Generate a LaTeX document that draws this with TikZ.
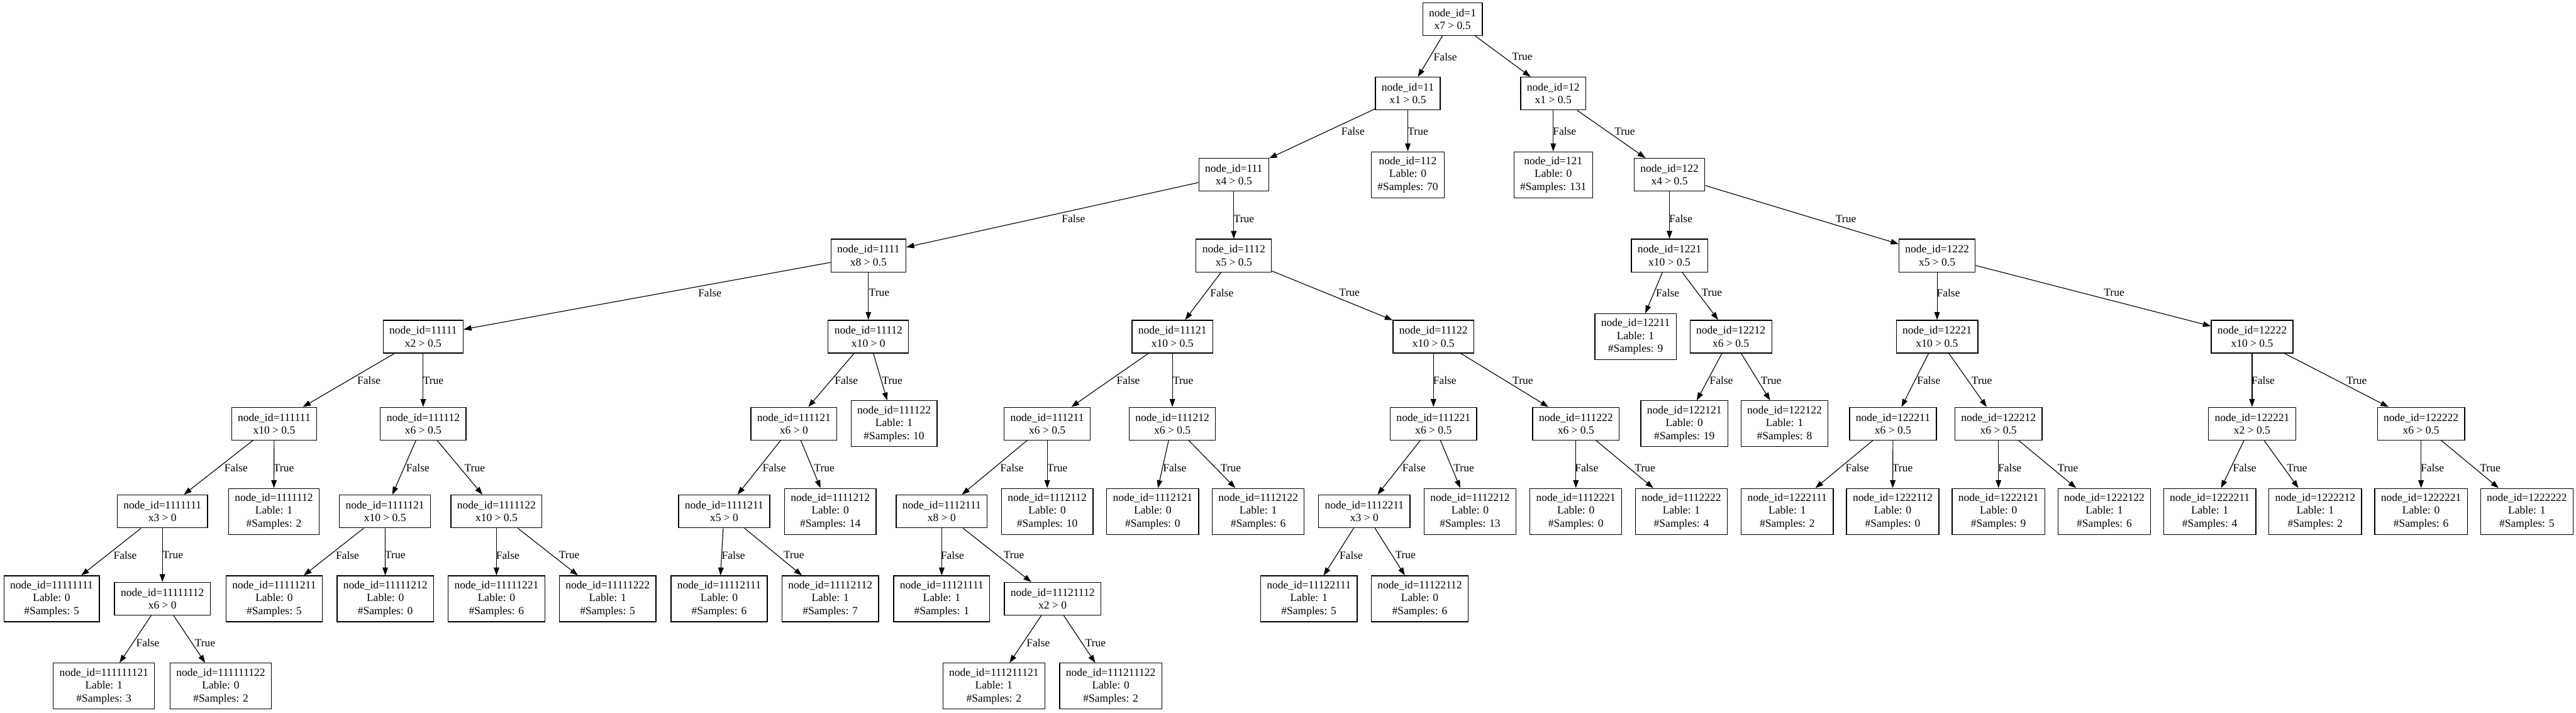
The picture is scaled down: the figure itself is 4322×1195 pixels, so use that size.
\documentclass[tikz,border=0pt]{standalone}
\usepackage{fontspec}
\newfontfamily\tfam{Liberation Serif}
\usetikzlibrary{arrows.meta}
\newcommand\tfnt{\tfam\fontsize{13.86pt}{16.2pt}\selectfont}
\newcommand\tedge[5]{\draw[edg] (n#1) -- (n#2); \node[el] (l#2) at (#4,#5) {#3};}
\tikzset{
  tn/.style={draw, line width=1pt, rectangle, align=center, inner xsep=7.84pt, inner ysep=0pt, minimum height=41.25pt, font=\tfnt},
  lf/.style={tn, minimum height=57.75pt},
  el/.style={font=\tfnt, inner sep=0pt},
  edg/.style={-{Triangle[length=9.9pt,width=6.9pt]}, line width=0.9pt},
}
\begin{document}
\begin{tikzpicture}[x=0.75pt,y=-0.75pt]
\useasboundingbox (0,0) rectangle (4322,1195);
% level 0
\node[tn] (n1) at (2437,32) {node\_id=1\\x7 > 0.5};
% level 1
\node[tn] (n11) at (2362,157) {node\_id=11\\x1 > 0.5};
\node[tn] (n12) at (2606,157) {node\_id=12\\x1 > 0.5};
% level 2
\node[tn] (n111) at (2070,293) {node\_id=111\\x4 > 0.5};
\node[lf] (n112) at (2362,293) {node\_id=112\\Lable: 0\\\#Samples: 70};
\node[lf] (n121) at (2606,293) {node\_id=121\\Lable: 0\\\#Samples: 131};
\node[tn] (n122) at (2801,293) {node\_id=122\\x4 > 0.5};
% level 3
\node[tn] (n1111) at (1457,428.5) {node\_id=1111\\x8 > 0.5};
\node[tn] (n1112) at (2070,428.5) {node\_id=1112\\x5 > 0.5};
\node[tn] (n1221) at (2801,428.5) {node\_id=1221\\x10 > 0.5};
\node[tn] (n1222) at (3250,428.5) {node\_id=1222\\x5 > 0.5};
% level 4
\node[tn] (n11111) at (710,564.5) {node\_id=11111\\x2 > 0.5};
\node[tn] (n11112) at (1457,564.5) {node\_id=11112\\x10 > 0};
\node[tn] (n11121) at (1967,564.5) {node\_id=11121\\x10 > 0.5};
\node[tn] (n11122) at (2405,564.5) {node\_id=11122\\x10 > 0.5};
\node[lf] (n12211) at (2744,564.5) {node\_id=12211\\Lable: 1\\\#Samples: 9};
\node[tn] (n12212) at (2904,564.5) {node\_id=12212\\x6 > 0.5};
\node[tn] (n12221) at (3250,564.5) {node\_id=12221\\x10 > 0.5};
\node[tn] (n12222) at (3778.5,564.5) {node\_id=12222\\x10 > 0.5};
% level 5
\node[tn] (n111111) at (460,710.5) {node\_id=111111\\x10 > 0.5};
\node[tn] (n111112) at (710,710.5) {node\_id=111112\\x6 > 0.5};
\node[tn] (n111121) at (1332,710.5) {node\_id=111121\\x6 > 0};
\node[lf] (n111122) at (1500,710.5) {node\_id=111122\\Lable: 1\\\#Samples: 10};
\node[tn] (n111211) at (1757,710.5) {node\_id=111211\\x6 > 0.5};
\node[tn] (n111212) at (1967,710.5) {node\_id=111212\\x6 > 0.5};
\node[tn] (n111221) at (2405,710.5) {node\_id=111221\\x6 > 0.5};
\node[tn] (n111222) at (2644,710.5) {node\_id=111222\\x6 > 0.5};
\node[lf] (n122121) at (2826,710.5) {node\_id=122121\\Lable: 0\\\#Samples: 19};
\node[lf] (n122122) at (2994,710.5) {node\_id=122122\\Lable: 1\\\#Samples: 8};
\node[tn] (n122211) at (3176,710.5) {node\_id=122211\\x6 > 0.5};
\node[tn] (n122212) at (3353,710.5) {node\_id=122212\\x6 > 0.5};
\node[tn] (n122221) at (3778.5,710.5) {node\_id=122221\\x2 > 0.5};
\node[tn] (n122222) at (4062,710.5) {node\_id=122222\\x6 > 0.5};
% level 6
\node[tn] (n1111111) at (272.5,857.5) {node\_id=1111111\\x3 > 0};
\node[lf] (n1111112) at (459.5,857.5) {node\_id=1111112\\Lable: 1\\\#Samples: 2};
\node[tn] (n1111121) at (646,857.5) {node\_id=1111121\\x10 > 0.5};
\node[tn] (n1111122) at (833,857.5) {node\_id=1111122\\x10 > 0.5};
\node[tn] (n1111211) at (1215,857.5) {node\_id=1111211\\x5 > 0};
\node[lf] (n1111212) at (1393,857.5) {node\_id=1111212\\Lable: 0\\\#Samples: 14};
\node[tn] (n1112111) at (1580,857.5) {node\_id=1112111\\x8 > 0};
\node[lf] (n1112112) at (1757,857.5) {node\_id=1112112\\Lable: 0\\\#Samples: 10};
\node[lf] (n1112121) at (1934,857.5) {node\_id=1112121\\Lable: 0\\\#Samples: 0};
\node[lf] (n1112122) at (2111,857.5) {node\_id=1112122\\Lable: 1\\\#Samples: 6};
\node[tn] (n1112211) at (2289,857.5) {node\_id=1112211\\x3 > 0};
\node[lf] (n1112212) at (2466.5,857.5) {node\_id=1112212\\Lable: 0\\\#Samples: 13};
\node[lf] (n1112221) at (2644,857.5) {node\_id=1112221\\Lable: 0\\\#Samples: 0};
\node[lf] (n1112222) at (2821,857.5) {node\_id=1112222\\Lable: 1\\\#Samples: 4};
\node[lf] (n1222111) at (2998.6,857.5) {node\_id=1222111\\Lable: 1\\\#Samples: 2};
\node[lf] (n1222112) at (3175.5,857.5) {node\_id=1222112\\Lable: 0\\\#Samples: 0};
\node[lf] (n1222121) at (3353,857.5) {node\_id=1222121\\Lable: 0\\\#Samples: 9};
\node[lf] (n1222122) at (3530.6,857.5) {node\_id=1222122\\Lable: 1\\\#Samples: 6};
\node[lf] (n1222211) at (3707.5,857.5) {node\_id=1222211\\Lable: 1\\\#Samples: 4};
\node[lf] (n1222212) at (3884.5,857.5) {node\_id=1222212\\Lable: 1\\\#Samples: 2};
\node[lf] (n1222221) at (4062,857.5) {node\_id=1222221\\Lable: 0\\\#Samples: 6};
\node[lf] (n1222222) at (4239.5,857.5) {node\_id=1222222\\Lable: 1\\\#Samples: 5};
% level 7
\node[lf] (n11111111) at (86.6,1004) {node\_id=11111111\\Lable: 0\\\#Samples: 5};
\node[tn] (n11111112) at (272.5,1004) {node\_id=11111112\\x6 > 0};
\node[lf] (n11111211) at (460,1004) {node\_id=11111211\\Lable: 0\\\#Samples: 5};
\node[lf] (n11111212) at (646.5,1004) {node\_id=11111212\\Lable: 0\\\#Samples: 0};
\node[lf] (n11111221) at (833,1004) {node\_id=11111221\\Lable: 0\\\#Samples: 6};
\node[lf] (n11111222) at (1019.5,1004) {node\_id=11111222\\Lable: 1\\\#Samples: 5};
\node[lf] (n11112111) at (1206.6,1004) {node\_id=11112111\\Lable: 0\\\#Samples: 6};
\node[lf] (n11112112) at (1393,1004) {node\_id=11112112\\Lable: 1\\\#Samples: 7};
\node[lf] (n11121111) at (1580,1004) {node\_id=11121111\\Lable: 1\\\#Samples: 1};
\node[tn] (n11121112) at (1766,1004) {node\_id=11121112\\x2 > 0};
\node[lf] (n11122111) at (2196,1004) {node\_id=11122111\\Lable: 1\\\#Samples: 5};
\node[lf] (n11122112) at (2382,1004) {node\_id=11122112\\Lable: 0\\\#Samples: 6};
% level 8
\node[lf] (n111111121) at (174.3,1150.5) {node\_id=111111121\\Lable: 1\\\#Samples: 3};
\node[lf] (n111111122) at (370.4,1150.5) {node\_id=111111122\\Lable: 0\\\#Samples: 2};
\node[lf] (n111211121) at (1667.5,1150.5) {node\_id=111211121\\Lable: 1\\\#Samples: 2};
\node[lf] (n111211122) at (1863.6,1150.5) {node\_id=111211122\\Lable: 0\\\#Samples: 2};
% edges
\tedge{1}{11}{False}{2425}{95}
\tedge{1}{12}{True}{2554}{95}
\tedge{11}{111}{False}{2270}{220}
\tedge{11}{112}{True}{2379}{220}
\tedge{12}{121}{False}{2625}{220}
\tedge{12}{122}{True}{2726}{220}
\tedge{111}{1111}{False}{1801}{367}
\tedge{111}{1112}{True}{2087}{367}
\tedge{122}{1221}{False}{2820}{367}
\tedge{122}{1222}{True}{3097}{367}
\tedge{1111}{11111}{False}{1191}{491}
\tedge{1111}{11112}{True}{1475}{491}
\tedge{1112}{11121}{False}{2050}{491}
\tedge{1112}{11122}{True}{2264}{491}
\tedge{1221}{12211}{False}{2798}{491}
\tedge{1221}{12212}{True}{2872}{491}
\tedge{1222}{12221}{False}{3269}{491}
\tedge{1222}{12222}{True}{3547}{491}
\tedge{11111}{111111}{False}{619}{638}
\tedge{11111}{111112}{True}{727}{638}
\tedge{11112}{111121}{False}{1420}{638}
\tedge{11112}{111122}{True}{1497}{638}
\tedge{11121}{111211}{False}{1893}{638}
\tedge{11121}{111212}{True}{1985}{638}
\tedge{11122}{111221}{False}{2424}{638}
\tedge{11122}{111222}{True}{2555}{638}
\tedge{12212}{122121}{False}{2888}{638}
\tedge{12212}{122122}{True}{2971.5}{638}
\tedge{12221}{122211}{False}{3236}{638}
\tedge{12221}{122212}{True}{3325}{638}
\tedge{12222}{122221}{False}{3797}{638}
\tedge{12222}{122222}{True}{3954}{638}
\tedge{111111}{1111111}{False}{396}{785}
\tedge{111111}{1111112}{True}{476}{785}
\tedge{111112}{1111121}{False}{701}{785}
\tedge{111112}{1111122}{True}{796.5}{785}
\tedge{111121}{1111211}{False}{1299}{785}
\tedge{111121}{1111212}{True}{1383}{785}
\tedge{111211}{1112111}{False}{1698}{785}
\tedge{111211}{1112112}{True}{1774}{785}
\tedge{111212}{1112121}{False}{1971}{785}
\tedge{111212}{1112122}{True}{2065}{785}
\tedge{111221}{1112211}{False}{2372.5}{785}
\tedge{111221}{1112212}{True}{2456}{785}
\tedge{111222}{1112221}{False}{2662}{785}
\tedge{111222}{1112222}{True}{2760}{785}
\tedge{122211}{1222111}{False}{3116}{785}
\tedge{122211}{1222112}{True}{3192}{785}
\tedge{122212}{1222121}{False}{3372}{785}
\tedge{122212}{1222122}{True}{3469.5}{785}
\tedge{122221}{1222211}{False}{3766}{785}
\tedge{122221}{1222212}{True}{3854}{785}
\tedge{122222}{1222221}{False}{4081}{785}
\tedge{122222}{1222222}{True}{4178}{785}
\tedge{1111111}{11111111}{False}{210}{931}
\tedge{1111111}{11111112}{True}{290}{931}
\tedge{1111121}{11111211}{False}{583}{931}
\tedge{1111121}{11111212}{True}{663}{931}
\tedge{1111122}{11111221}{False}{852}{931}
\tedge{1111122}{11111222}{True}{955}{931}
\tedge{1111211}{11112111}{False}{1230.5}{931}
\tedge{1111211}{11112112}{True}{1332}{931}
\tedge{1112111}{11121111}{False}{1598}{931}
\tedge{1112111}{11121112}{True}{1701}{931}
\tedge{1112211}{11122111}{False}{2267}{931}
\tedge{1112211}{11122112}{True}{2358}{931}
\tedge{11111112}{111111121}{False}{248}{1078}
\tedge{11111112}{111111122}{True}{344}{1078}
\tedge{11121112}{111211121}{False}{1742}{1078}
\tedge{11121112}{111211122}{True}{1838}{1078}
\end{tikzpicture}
\end{document}
